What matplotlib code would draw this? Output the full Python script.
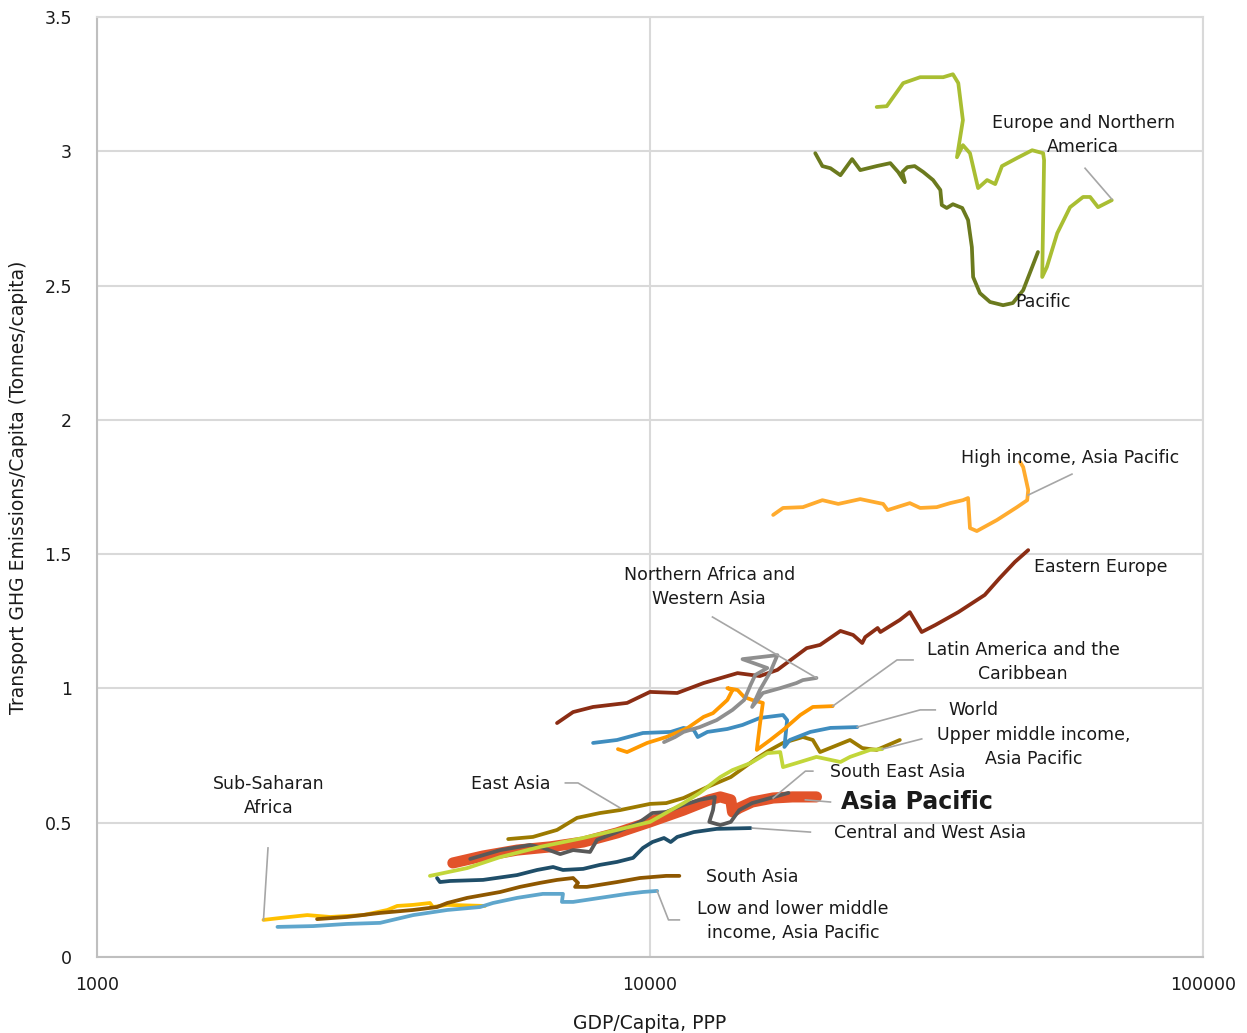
import matplotlib
import matplotlib.pyplot as plt
from matplotlib.ticker import FixedLocator, NullLocator

matplotlib.use('Agg')

plt.rcParams['font.family'] = ['DejaVu Sans']

# GDP per capita (PPP) and transport GHG emissions per capita (t) per region
eur_gdp = [25700, 26800, 28700, 30800, 33900, 35300, 36100, 36800, 35900, 36800, 37900, 39200, 40700, 42100,
           43300, 46100, 49100, 51400, 51600, 51200, 52200, 54500, 57500, 60700, 62500, 64600, 68400]
eur_ghg = [3.165, 3.168, 3.254, 3.276, 3.276, 3.287, 3.254, 3.116, 2.978, 3.023, 2.993, 2.863, 2.893, 2.878,
           2.945, 2.975, 3.004, 2.993, 2.967, 2.532, 2.569, 2.695, 2.792, 2.830, 2.830, 2.792, 2.818]

pac_gdp = [19900, 20500, 21200, 22100, 23200, 24000, 25700, 27200, 28100, 28900, 28600, 29200, 30100, 31200,
           32500, 33500, 33700, 34400, 35300, 36700, 37600, 38200, 38400, 39500, 41200, 43500, 45300, 47300,
           49100, 50300]
pac_ghg = [2.993, 2.945, 2.937, 2.911, 2.971, 2.930, 2.945, 2.956, 2.923, 2.885, 2.923, 2.941, 2.945, 2.923,
           2.893, 2.856, 2.800, 2.789, 2.803, 2.789, 2.744, 2.643, 2.532, 2.472, 2.439, 2.427, 2.435, 2.483,
           2.569, 2.625]

hi_gdp = [16700, 17400, 18900, 20500, 21900, 24000, 26400, 26900, 29500, 30800, 33000, 34900, 36800, 37600,
          37900, 39000, 42400, 46100, 48100, 48300, 47300, 46700]
hi_ghg = [1.646, 1.672, 1.675, 1.701, 1.687, 1.705, 1.687, 1.664, 1.690, 1.672, 1.675, 1.690, 1.701, 1.709,
          1.597, 1.586, 1.627, 1.675, 1.701, 1.739, 1.824, 1.843]

ee_gdp = [6790, 7260, 7890, 9090, 10000, 11200, 12500, 14400, 15800, 17000, 19200, 20300, 22100, 23300, 24200,
          24500, 25800, 26100, 28300, 29500, 31000, 32800, 36100, 40300, 42900, 45700, 48300]
ee_ghg = [0.871, 0.912, 0.931, 0.946, 0.987, 0.983, 1.020, 1.057, 1.046, 1.069, 1.150, 1.162, 1.214, 1.199,
          1.169, 1.191, 1.225, 1.210, 1.255, 1.284, 1.210, 1.236, 1.284, 1.348, 1.411, 1.471, 1.515]

nafr_gdp = [10600, 11100, 11500, 12300, 13200, 14100, 14800, 15200, 15500, 16300, 14700, 17000, 16500, 15800,
            15300, 16000, 17200, 18400, 18900, 20000]
nafr_ghg = [0.800, 0.819, 0.838, 0.856, 0.882, 0.920, 0.957, 1.013, 1.050, 1.076, 1.109, 1.124, 1.061, 0.994,
            0.931, 0.983, 1.001, 1.020, 1.031, 1.039]

lac_gdp = [8750, 9090, 9880, 10700, 11700, 12500, 13000, 13800, 14100, 13800, 14400, 14800, 15300, 16000,
           15800, 15600, 16500, 17400, 18700, 19700, 21400]
lac_ghg = [0.774, 0.763, 0.797, 0.819, 0.853, 0.894, 0.908, 0.957, 0.994, 1.001, 0.994, 0.968, 0.957, 0.946,
           0.864, 0.771, 0.808, 0.845, 0.901, 0.931, 0.934]

wld_gdp = [7890, 8720, 9710, 10900, 11500, 12000, 12200, 12700, 13800, 14700, 15800, 17400, 17700, 17500,
           17900, 19500, 21200, 23700]
wld_ghg = [0.797, 0.808, 0.834, 0.838, 0.853, 0.845, 0.819, 0.838, 0.849, 0.864, 0.890, 0.901, 0.882, 0.782,
           0.808, 0.838, 0.853, 0.856]

umi_gdp = [4000, 4670, 5360, 6330, 7570, 8720, 10000, 11500, 12300, 13400, 14100, 15200, 16300, 17200, 17400,
           18400, 20000, 22100, 23000, 25000, 26300]
umi_ghg = [0.302, 0.331, 0.372, 0.410, 0.443, 0.473, 0.503, 0.573, 0.611, 0.670, 0.696, 0.722, 0.759, 0.763,
           0.707, 0.722, 0.745, 0.726, 0.745, 0.771, 0.774]

ea_gdp = [5540, 6140, 6790, 7380, 8120, 8830, 10000, 10700, 11500, 12700, 14000, 15600, 16300, 17400, 18900,
          19700, 20300, 21400, 23000, 24200, 25700, 28300]
ea_ghg = [0.439, 0.447, 0.473, 0.518, 0.536, 0.547, 0.570, 0.573, 0.592, 0.633, 0.670, 0.740, 0.765, 0.797,
          0.819, 0.808, 0.763, 0.782, 0.808, 0.778, 0.771, 0.808]

ap_gdp = [4400, 4990, 5750, 6600, 7570, 8720, 10000, 11500, 12800, 13400, 14000, 14100, 14500, 15300, 16700,
          18100, 20000]
ap_ghg = [0.350, 0.376, 0.398, 0.410, 0.428, 0.462, 0.503, 0.547, 0.585, 0.596, 0.585, 0.540, 0.555, 0.577,
          0.592, 0.596, 0.596]

sea_gdp = [4730, 5360, 6070, 6410, 6880, 7260, 7790, 8020, 8720, 9590, 10100, 10700, 11500, 12300, 13100,
           13000, 12800, 13400, 14000, 14500, 15300, 16500, 17800]
sea_ghg = [0.365, 0.398, 0.417, 0.406, 0.383, 0.398, 0.391, 0.436, 0.465, 0.503, 0.536, 0.540, 0.566, 0.585,
           0.596, 0.547, 0.503, 0.491, 0.503, 0.547, 0.573, 0.592, 0.611]

cwa_gdp = [4120, 4170, 4350, 4990, 5750, 6250, 6680, 6960, 7570, 8120, 8720, 9320, 9710, 10100, 10600, 10900,
           11200, 12000, 13200, 15200]
cwa_ghg = [0.294, 0.279, 0.283, 0.287, 0.305, 0.324, 0.335, 0.324, 0.328, 0.343, 0.354, 0.369, 0.406, 0.428,
           0.443, 0.428, 0.447, 0.465, 0.477, 0.480]

sa_gdp = [2500, 2830, 3250, 3730, 4120, 4300, 4670, 5360, 5820, 6330, 6790, 7260, 7410, 7320, 7690, 8720,
          9590, 10700, 11300]
sa_ghg = [0.141, 0.149, 0.164, 0.175, 0.186, 0.201, 0.220, 0.242, 0.261, 0.276, 0.287, 0.294, 0.276, 0.261,
          0.261, 0.279, 0.294, 0.302, 0.302]

lmi_gdp = [2120, 2460, 2830, 3250, 3730, 4300, 4930, 5200, 5750, 6400, 6960, 6930, 7260, 8120, 9090, 9710,
           10300]
lmi_ghg = [0.112, 0.115, 0.123, 0.127, 0.156, 0.175, 0.186, 0.201, 0.220, 0.235, 0.235, 0.205, 0.205, 0.220,
           0.235, 0.242, 0.246]

ssa_gdp = [2000, 2140, 2400, 2640, 3030, 3350, 3490, 3730, 4000, 4050, 4300, 5030]
ssa_ghg = [0.138, 0.145, 0.156, 0.149, 0.156, 0.175, 0.190, 0.194, 0.201, 0.186, 0.194, 0.190]

LEADER = '#A6A6A6'
TXT = '#1A1A1A'

fig = plt.figure(figsize=(12.47, 10.33), dpi=100)
ax = fig.add_axes([0.0778, 0.0736, 0.8869, 0.9099])


def line(x, y, color, lw=2.7, z=3):
    ax.plot(x, y, color=color, lw=lw, zorder=z, solid_joinstyle='round', solid_capstyle='round')


line(ssa_gdp, ssa_ghg, '#FFC000')
line(lmi_gdp, lmi_ghg, '#5FA6CC')
line(sa_gdp, sa_ghg, '#8E5700')
line(cwa_gdp, cwa_ghg, '#1F4E69')
line(ea_gdp, ea_ghg, '#9C7A00')
line(ap_gdp, ap_ghg, '#E2532A', lw=8, z=3.1)
line(sea_gdp, sea_ghg, '#595959', z=3.2)
line(umi_gdp, umi_ghg, '#C2D63A', z=3.3)
line(wld_gdp, wld_ghg, '#3F8DBF')
line(lac_gdp, lac_ghg, '#FF9900', z=3.4)
line(nafr_gdp, nafr_ghg, '#8F8F8F', z=3.5)
line(ee_gdp, ee_ghg, '#8B2D14', z=3.4)
line(hi_gdp, hi_ghg, '#FFAB2E')
line(pac_gdp, pac_ghg, '#6B7A1E')
line(eur_gdp, eur_ghg, '#A9BE32', z=3.2)

ax.set_xscale('log')
ax.set_xlim(1000, 100000)
ax.set_ylim(0, 3.5)
ax.xaxis.set_major_locator(FixedLocator([1000, 10000, 100000]))
ax.xaxis.set_minor_locator(NullLocator())
ax.set_xticklabels(['1000', '10000', '100000'])
ax.set_yticks([0, 0.5, 1, 1.5, 2, 2.5, 3, 3.5])
ax.set_yticklabels(['0', '0.5', '1', '1.5', '2', '2.5', '3', '3.5'])
ax.tick_params(length=0, labelsize=12.5, colors=TXT)
ax.tick_params(axis='x', pad=14)
ax.tick_params(axis='y', pad=18)
ax.grid(True, color='#D9D9D9', lw=1.5, zorder=0)
for s in ['top', 'right']:
    ax.spines[s].set_color('#D9D9D9')
    ax.spines[s].set_linewidth(1.5)
for s in ['left', 'bottom']:
    ax.spines[s].set_color('#BFBFBF')
    ax.spines[s].set_linewidth(1.5)
ax.set_axisbelow(True)

ax.set_xlabel('GDP/Capita, PPP', fontsize=13.5, color=TXT, labelpad=14)
ax.set_ylabel('Transport GHG Emissions/Capita (Tonnes/capita)', fontsize=13.5, color=TXT, labelpad=12)


def label(text, pos, path=None, **kw):
    kw.setdefault('fontsize', 12.5)
    ax.text(pos[0], pos[1], text, ha='center', va='center', color=TXT, zorder=6,
            linespacing=1.45, **kw)
    if path:
        xs, ys = zip(*path)
        ax.plot(xs, ys, color=LEADER, lw=1.2, zorder=5)


label('Europe and Northern\nAmerica', (60700, 3.06), [(61200, 2.937), (68400, 2.822)])
label('Pacific', (51400, 2.44))
label('High income, Asia Pacific', (57500, 1.858), [(48300, 1.720), (57950, 1.798)])
label('Eastern Europe', (65400, 1.452))
label('Northern Africa and\nWestern Asia', (12800, 1.378), [(12970, 1.266), (20000, 1.039)])
label('Latin America and the\nCaribbean', (47300, 1.098), [(21400, 0.934), (27970, 1.106), (29900, 1.106)])
label('World', (38400, 0.92), [(23700, 0.856), (30800, 0.92), (32800, 0.92)])
label('Upper middle income,\nAsia Pacific', (49500, 0.782), [(26300, 0.774), (31000, 0.812)])
label('South East Asia', (28000, 0.689), [(16700, 0.592), (19100, 0.692), (19700, 0.692)])
label('Asia Pacific', (30400, 0.577), [(19100, 0.585), (21200, 0.577)], fontsize=17, fontweight='bold')
label('Central and West Asia', (32100, 0.462), [(15300, 0.480), (19500, 0.465)])
label('South Asia', (15300, 0.298))
label('Low and lower middle\nincome, Asia Pacific', (18140, 0.134), [(10300, 0.246), (10800, 0.138), (11300, 0.138)])
label('East Asia', (5600, 0.644), [(7030, 0.648), (7410, 0.648), (8830, 0.555)])
label('Sub-Saharan\nAfrica', (2040, 0.599), [(2038, 0.406), (2000, 0.138)])

fig.savefig('out.png', dpi=100)
